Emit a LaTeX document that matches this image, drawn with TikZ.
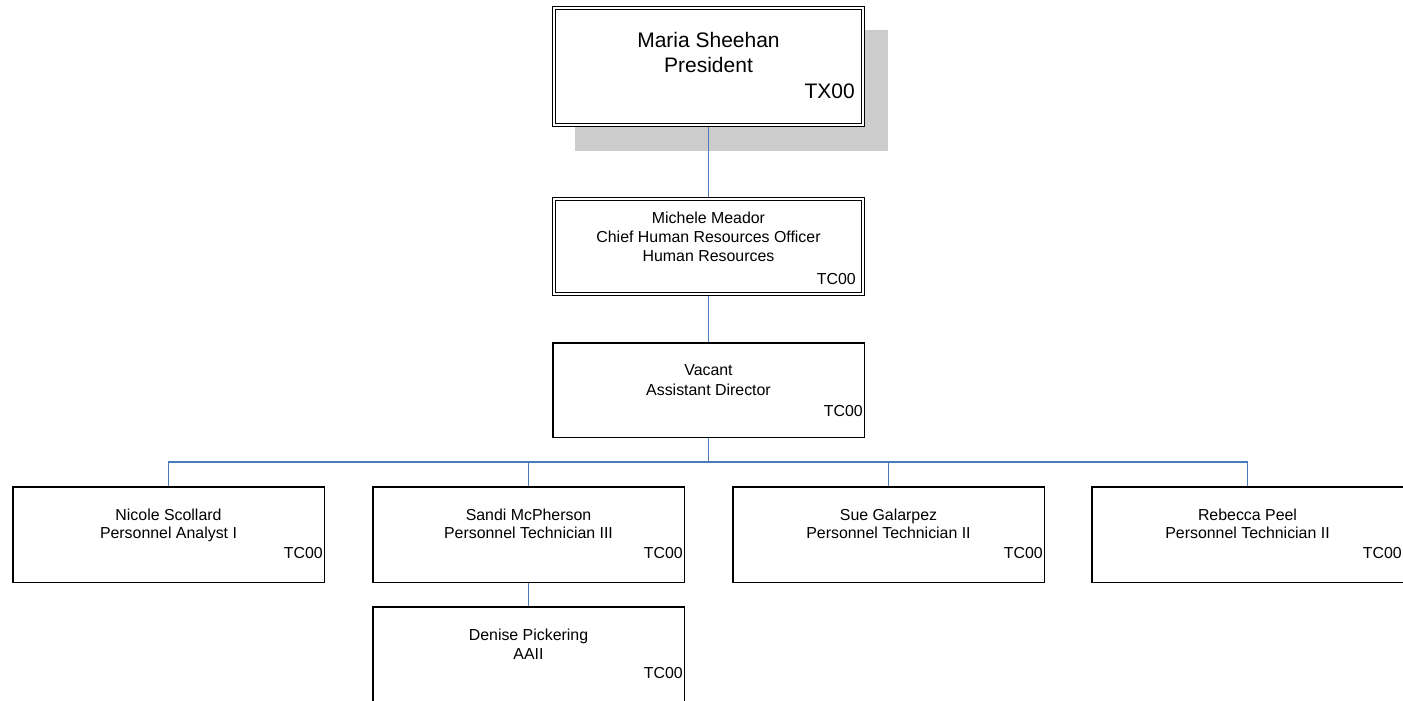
\documentclass[tikz,border=0pt]{standalone}
\usepackage{fontspec}
\setmainfont{Liberation Sans}
\usepackage{xcolor}
\usepackage{tikz}
\usetikzlibrary{positioning,shadows}
\definecolor{wireblue}{HTML}{4A7EBB}
\definecolor{shadowgray}{HTML}{CCCCCC}

\begin{document}
\begin{tikzpicture}[x=1pt, y=-1pt, node distance=47pt,
  box/.style={draw, fill=white, line width=1.5pt, minimum width=311.5pt, minimum height=95.5pt, inner sep=0pt},
  dbox/.style={draw, fill=white, line width=1.2pt, double, double distance=2pt, outer sep=2.2pt, minimum width=308.6pt, inner sep=0pt},
  txt/.style={align=center, inner sep=0pt, anchor=base, font=\fontsize{15.9}{18.5}\selectfont},
  code/.style={inner sep=0pt, anchor=base east, font=\fontsize{15.9}{18.5}\selectfont},
  wire/.style={draw=wireblue, line width=1.3pt}]
\fill[white] (0,0) rectangle (1403,701);
\useasboundingbox (0,0) rectangle (1403,701);
% president
\node[dbox, minimum height=116.6pt, drop shadow={shadow xshift=23pt, shadow yshift=-24pt, opacity=1, fill=shadowgray, draw=shadowgray, line width=4.4pt}] (pres) at (708.5,66.5) {};
\node[txt, font=\fontsize{21}{25}\selectfont] (prestxt) at ([shift={(0,67)}]pres.north) {Maria Sheehan\\President};
\node[code, font=\fontsize{21}{25}\selectfont] (prescode) at ([shift={(-10,93)}]pres.north east) {TX00};
% human resources
\node[dbox, minimum height=94.6pt, below=70pt of pres] (hr) {};
\node[txt, font=\fontsize{15.9}{19}\selectfont] (hrtxt) at ([shift={(0,64)}]hr.north) {Michele Meador\\Chief Human Resources Officer\\Human Resources};
\node[code] (hrcode) at ([shift={(-9,87)}]hr.north east) {TC00};
% assistant director
\node[box, minimum height=94.5pt, below=46pt of hr] (asst) {};
\node[txt, font=\fontsize{15.9}{20}\selectfont] (assttxt) at ([shift={(0,53)}]asst.north) {Vacant\\Assistant Director};
\node[code] (asstcode) at ([shift={(-2,74)}]asst.north east) {TC00};
% staff
\node[box] (nicole) at (168.5,534.5) {};
\node[box, right=of nicole] (sandi) {};
\node[box, right=of sandi] (sue) {};
\node[box, right=46pt of sue] (rebecca) {};
\node[box, below=23pt of sandi] (denise) {};
\node[txt] (nicoletxt) at ([shift={(0,52.5)}]nicole.north) {Nicole Scollard\\Personnel Analyst I};
\node[txt] (sanditxt) at ([shift={(0,52.5)}]sandi.north) {Sandi McPherson\\Personnel Technician III};
\node[txt] (suetxt) at ([shift={(0,52.5)}]sue.north) {Sue Galarpez\\Personnel Technician II};
\node[txt] (rebeccatxt) at ([shift={(0,52.5)}]rebecca.north) {Rebecca Peel\\Personnel Technician II};
\node[txt, font=\fontsize{15.9}{19}\selectfont] (denisetxt) at ([shift={(0,53)}]denise.north) {Denise Pickering\\AAII};
\node[code] (nicolecode) at ([shift={(-2,72)}]nicole.north east) {TC00};
\node[code] (sandicode) at ([shift={(-2,72)}]sandi.north east) {TC00};
\node[code] (suecode) at ([shift={(-2,72)}]sue.north east) {TC00};
\node[code] (rebeccacode) at ([shift={(-2,72)}]rebecca.north east) {TC00};
\node[code] (denisecode) at ([shift={(-2,72)}]denise.north east) {TC00};
% connectors
\coordinate (bus) at ([shift={(0,24)}]asst.south);
\draw[wire] (pres) -- (hr);
\draw[wire] (hr) -- (asst);
\draw[wire] (asst) -- (bus);
\draw[wire] (bus) -| (nicole.north);
\draw[wire] (bus) -| (sandi.north);
\draw[wire] (bus) -| (sue.north);
\draw[wire] (bus) -| (rebecca.north);
\draw[wire] (sandi) -- (denise);
\end{tikzpicture}
\end{document}
